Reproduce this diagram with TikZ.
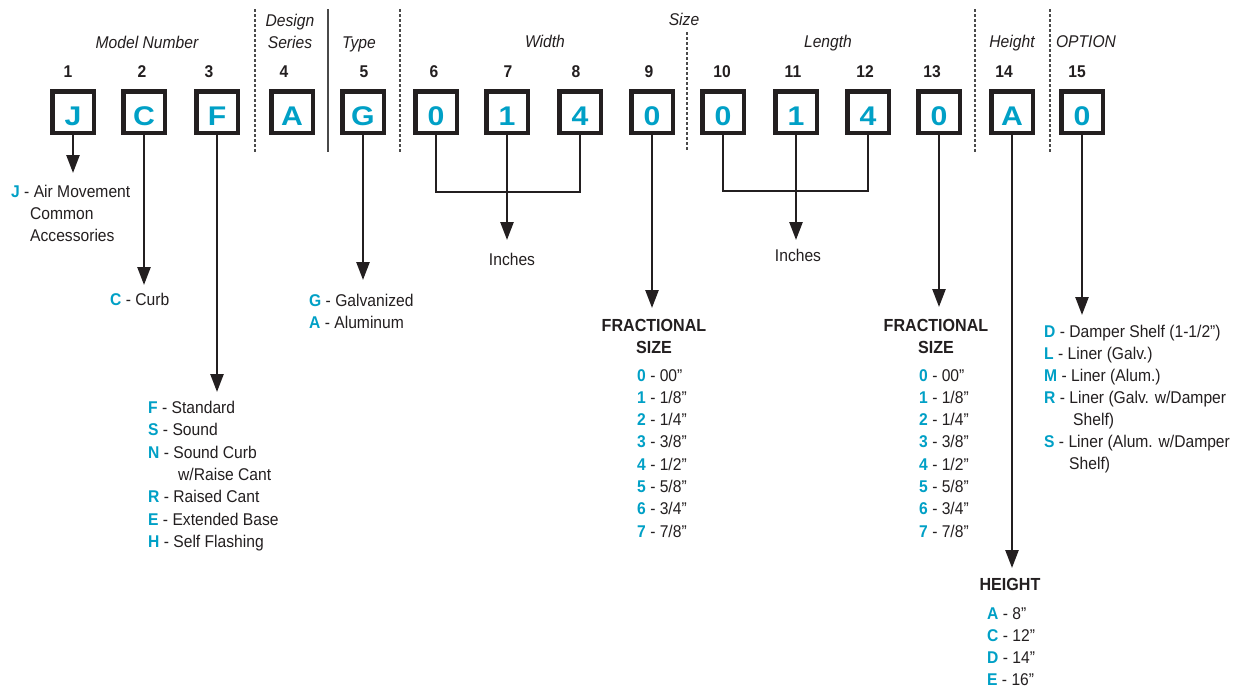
\documentclass[tikz,border=0pt]{standalone}
\usepackage{fontspec}
\setmainfont{Liberation Sans}[FakeStretch=0.92]
\newfontfamily\boxfont{Liberation Sans}[FakeStretch=1.12]
\usetikzlibrary{arrows.meta}
\definecolor{ink}{HTML}{231F20}
\definecolor{cy}{HTML}{00A0C6}
\definecolor{sepgray}{HTML}{4A4A4A}
\newcommand{\cy}[1]{{\bfseries\color{cy}#1}}
\tikzset{
  codebox/.style={draw=ink, line width=4.5pt, minimum width=41.5pt, minimum height=41.5pt,
    inner sep=0pt, text height=26pt, text depth=0pt,
    font=\boxfont\bfseries\fontsize{27}{27}\selectfont, text=cy},
  posnum/.style={font=\bfseries\fontsize{17}{20}\selectfont, text=ink, anchor=base, inner sep=0pt},
  cat/.style={font=\itshape\fontsize{17}{20}\selectfont, text=ink, anchor=base, inner sep=0pt},
  item/.style={font=\fontsize{17}{20}\selectfont, text=ink, anchor=base west, inner sep=0pt},
  ctext/.style={font=\fontsize{17}{20}\selectfont, text=ink, anchor=base, inner sep=0pt},
  head/.style={font=\bfseries\fontsize{17.5}{20}\selectfont, text=ink, anchor=base, inner sep=0pt},
  conn/.style={line width=2.5pt, draw=ink},
  arr/.style={conn, -{Triangle[length=18pt,width=13pt]}},
  solidsep/.style={line width=1.4pt, draw=sepgray},
  dsep/.style={line width=1.3pt, draw=sepgray, dash pattern=on 3pt off 2pt},
}
\begin{document}
\begin{tikzpicture}[x=1pt,y=-1pt]
\useasboundingbox[fill=white] (0,0) rectangle (1241,688);

% separators
\draw[dsep] (255,9) -- (255,152);
\draw[solidsep] (328,9) -- (328,152);
\draw[dsep] (400,9) -- (400,152);
\draw[dsep] (687,32) -- (687,150);
\draw[dsep] (975,9) -- (975,152);
\draw[dsep] (1050,9) -- (1050,152);

% category labels
\node[cat] (lmodel) at (147,48) {Model Number};
\node[cat] (ldesign) at (290,26) {Design};
\node[cat] (lseries) at (290,48) {Series};
\node[cat] (ltype) at (359,48) {Type};
\node[cat] (lsize) at (684,25) {Size};
\node[cat] (lwidth) at (545,47) {Width};
\node[cat] (llength) at (828,47) {Length};
\node[cat] (lheight) at (1012,47) {Height};
\node[cat] (loption) at (1086,47) {OPTION};

% position numbers
\foreach \n/\x in {1/68,2/142,3/209,4/284,5/364,6/434,7/508,8/576,9/649,10/722,11/793,12/865,13/932,14/1004,15/1077}
  \node[posnum] (n\n) at (\x,77) {\n};

% code boxes
\foreach \n/\x/\c in {1/73/J,2/144/C,3/217/F,4/292/A,5/363/G,6/436/0,7/507/1,8/580/4,9/652/0,10/723/0,11/796/1,12/868/4,13/939/0,14/1012/A,15/1082/0}
  \node[codebox] (b\n) at (\x,112) {\c};

% arrow end points
\coordinate (t1) at (73,173);
\coordinate (t2) at (144,285);
\coordinate (t3) at (217,392);
\coordinate (t5) at (363,280);
\coordinate (wb) at (507,192);
\coordinate (t7) at (507,240);
\coordinate (t9) at (652,308);
\coordinate (lb) at (796,191);
\coordinate (t11) at (796,240);
\coordinate (t13) at (939,307);
\coordinate (t14) at (1012,568);
\coordinate (t15) at (1082,315);

% connectors
\draw[arr] (b1.south) -- (t1);
\draw[arr] (b2.south) -- (t2);
\draw[arr] (b3.south) -- (t3);
\draw[arr] (b5.south) -- (t5);
\draw[conn] (b6.south) |- (wb) -| (b8.south);
\draw[arr] (b7.south) -- (t7);
\draw[arr] (b9.south) -- (t9);
\draw[conn] (b10.south) |- (lb) -| (b12.south);
\draw[arr] (b11.south) -- (t11);
\draw[arr] (b13.south) -- (t13);
\draw[arr] (b14.south) -- (t14);
\draw[arr] (b15.south) -- (t15);

% J
\node[item] (j1) at (11,197) {\cy{J} - Air Movement};
\node[item] (j2) at (30,219) {Common};
\node[item] (j3) at (30,241) {Accessories};

% C
\node[item] (c1) at (110,305) {\cy{C} - Curb};

% G
\node[item] (g1) at (309,306) {\cy{G} - Galvanized};
\node[item] (g2) at (309,328) {\cy{A} - Aluminum};

% F list
\node[item] (f1) at (148,413.3) {\cy{F} - Standard};
\node[item] (f2) at (148,435.7) {\cy{S} - Sound};
\node[item] (f3) at (148,458.1) {\cy{N} - Sound Curb};
\node[item] (f4) at (178,480.5) {w/Raise Cant};
\node[item] (f5) at (148,502.9) {\cy{R} - Raised Cant};
\node[item] (f6) at (148,525.3) {\cy{E} - Extended Base};
\node[item] (f7) at (148,547.7) {\cy{H} - Self Flashing};

% inches
\node[ctext] (in1) at (512,265) {Inches};
\node[ctext] (in2) at (798,261) {Inches};

% fractional size 1
\node[head] (fr1) at (654,331) {FRACTIONAL};
\node[head] (fs1) at (654,353) {SIZE};
\foreach \k/\d/\v in {0/0/00”,1/1/1\slash8”,2/2/1\slash4”,3/3/3\slash8”,4/4/1\slash2”,5/5/5\slash8”,6/6/3\slash4”,7/7/7\slash8”}
  \node[item] (fa\k) at (637,381+22.3*\k) {\cy{\d} - \v};

% fractional size 2
\node[head] (fr2) at (936,331) {FRACTIONAL};
\node[head] (fs2) at (936,353) {SIZE};
\foreach \k/\d/\v in {0/0/00”,1/1/1\slash8”,2/2/1\slash4”,3/3/3\slash8”,4/4/1\slash2”,5/5/5\slash8”,6/6/3\slash4”,7/7/7\slash8”}
  \node[item] (fb\k) at (919,381+22.3*\k) {\cy{\d} - \v};

% option list
\node[item] (o1) at (1044,337) {\cy{D} - Damper Shelf (1-1/2”)};
\node[item] (o2) at (1044,359) {\cy{L} - Liner (Galv.)};
\node[item] (o3) at (1044,381) {\cy{M} - Liner (Alum.)};
\node[item] (o4) at (1044,403) {\cy{R} - Liner (Galv. w/Damper};
\node[item] (o5) at (1073,425) {Shelf)};
\node[item] (o6) at (1044,447) {\cy{S} - Liner (Alum. w/Damper};
\node[item] (o7) at (1069,469) {Shelf)};

% height list
\node[head] (hh) at (1010,590) {HEIGHT};
\node[item] (h1) at (987,619) {\cy{A} - 8”};
\node[item] (h2) at (987,641) {\cy{C} - 12”};
\node[item] (h3) at (987,663) {\cy{D} - 14”};
\node[item] (h4) at (987,685) {\cy{E} - 16”};
\end{tikzpicture}
\end{document}
